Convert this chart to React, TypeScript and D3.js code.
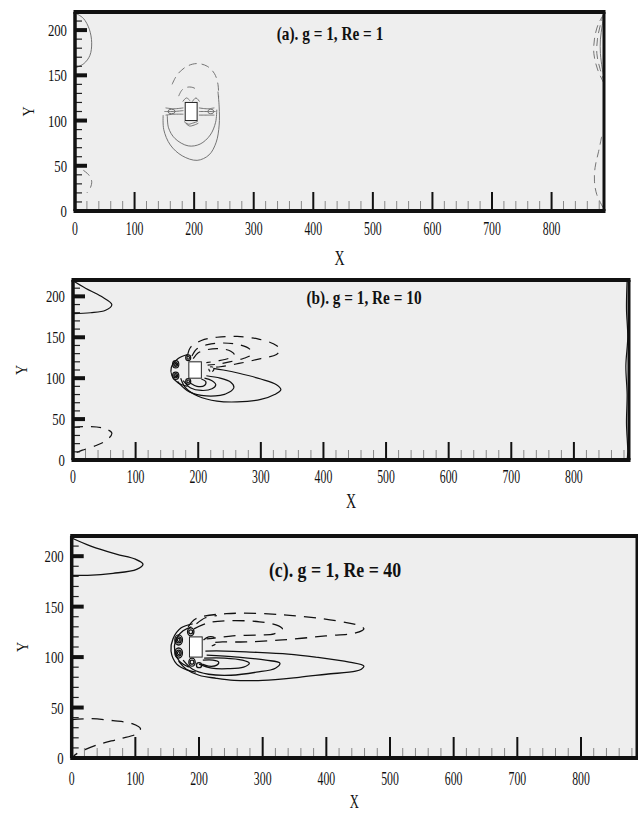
import React from "react";
import * as d3 from "d3";

type Pt = [number, number];
interface Contour { sign: number; closed?: boolean; pts: Pt[] }
interface Eddy { x: number; y: number; rx: number; ry: number; sign: number }

// Channel extent (lattice units)
const X_DOMAIN: [number, number] = [0, 888];
const Y_DOMAIN: [number, number] = [0, 220];

const xTickValues = [0, 100, 200, 300, 400, 500, 600, 700, 800];
const yTickValues = [0, 50, 100, 150, 200];
const xMinorStep = 20;
const yMinorStep = 10;

const panelTitles = ["(a). g = 1, Re = 1", "(b). g = 1, Re = 10", "(c). g = 1, Re = 40"];

// Square cylinder
const cylinderBox = { x0: 185, x1: 205, y0: 100, y1: 120 };

// Vorticity iso-lines, Re = 1 (sign < 0 → dashed)
const contoursRe1: Contour[] = [
  { sign: 1, pts: [[0, 219], [14, 213], [24, 201], [28, 186], [25, 172], [15, 163], [0, 158]] },
  { sign: -1, pts: [[14, 45], [23, 40], [28, 33], [26, 26], [20, 20]] },
  { sign: -1, pts: [[888, 218], [878, 206], [872, 190], [871, 174], [877, 157], [888, 141]] },
  { sign: -1, pts: [[888, 219], [882, 206], [877, 190], [876, 174], [881, 158], [888, 144]] },
  { sign: 1, pts: [[888, 219], [885, 205], [882, 190], [882, 174], [885, 158], [888, 148]] },
  { sign: -1, pts: [[884, 82], [879, 66], [873, 48], [872, 33], [876, 18], [888, 2]] },
  { sign: -1, pts: [[163, 140], [172, 151], [188, 160], [205, 163], [222, 160], [234, 152], [240, 140], [241, 125]] },
  { sign: -1, pts: [[174, 127], [180, 134], [190, 137], [200, 136], [205, 133]] },
  { sign: 1, pts: [[155, 106], [157, 92], [168, 80], [190, 72], [210, 74], [227, 84], [236, 98], [238, 112]] },
  { sign: 1, pts: [[148, 106], [149, 90], [160, 73], [180, 61], [205, 56], [225, 62], [237, 76], [242, 95], [242, 115], [240, 132]] },
  { sign: 1, pts: [[150, 110], [165, 110], [182, 111]] },
  { sign: 1, pts: [[152, 114], [166, 113], [182, 114]] },
  { sign: 1, pts: [[152, 106], [166, 107], [182, 107]] },
  { sign: 1, pts: [[208, 110], [222, 110], [236, 110]] },
  { sign: 1, pts: [[208, 114], [222, 113], [234, 114]] },
  { sign: 1, pts: [[208, 106], [222, 106], [234, 106]] },
  { sign: 1, pts: [[181, 121], [187, 125], [193, 122]] },
  { sign: 1, pts: [[197, 121], [203, 125], [209, 121]] },
  { sign: 1, pts: [[183, 99], [190, 96], [197, 97], [206, 99]] },
  { sign: 1, pts: [[186, 97], [192, 94], [200, 95], [207, 97]] },
];

const eddiesRe1: Eddy[] = [
  { x: 162, y: 110, rx: 6, ry: 2.5, sign: 1 },
  { x: 228, y: 110, rx: 5, ry: 2.5, sign: 1 },
];

// Vorticity iso-lines, Re = 10
const contoursRe10: Contour[] = [
  { sign: 1, pts: [[0, 219], [20, 210], [45, 200], [62, 190], [52, 183], [28, 180], [0, 179]] },
  { sign: -1, pts: [[0, 40], [25, 41], [48, 39], [62, 33], [55, 25], [38, 18], [15, 12], [2, 8]] },
  { sign: 1, pts: [[885, 220], [884, 185], [886, 150], [883, 115], [885, 80], [884, 45], [886, 10], [885, 0]] },
  { sign: -1, pts: [[183, 128], [188, 138], [205, 146], [230, 150], [262, 151], [295, 148], [320, 142], [331, 135], [325, 129], [300, 124], [265, 118], [235, 114], [218, 113]] },
  { sign: -1, pts: [[190, 127], [198, 136], [215, 141], [240, 143], [265, 141], [283, 135], [285, 129], [272, 124], [250, 120], [230, 117], [215, 116]] },
  { sign: -1, pts: [[192, 124], [200, 131], [215, 135], [235, 136], [252, 133], [258, 128], [248, 124], [230, 121], [213, 119]] },
  { sign: 1, pts: [[224, 112], [240, 110], [265, 106], [300, 99], [325, 92], [332, 86], [322, 80], [300, 74], [262, 71], [230, 72], [200, 78], [180, 88], [172, 100]] },
  { sign: 1, pts: [[213, 103], [235, 100], [252, 95], [257, 89], [250, 83], [235, 79], [205, 79], [182, 85], [167, 96]] },
  { sign: 1, pts: [[210, 100], [222, 97], [228, 92], [222, 87], [205, 85], [188, 88], [176, 97]] },
  { sign: 1, pts: [[205, 99], [212, 96], [210, 91], [198, 90], [187, 94]] },
  { sign: 1, pts: [[183, 129], [168, 124], [157, 113], [158, 103], [168, 94], [183, 90]] },
];

const eddiesRe10: Eddy[] = [
  { x: 164, y: 117, rx: 5, ry: 4.5, sign: 1 },
  { x: 164, y: 117, rx: 3, ry: 2.5, sign: 1 },
  { x: 164, y: 117, rx: 1.5, ry: 1.2, sign: 1 },
  { x: 164, y: 103, rx: 5, ry: 4.5, sign: 1 },
  { x: 164, y: 103, rx: 3, ry: 2.5, sign: 1 },
  { x: 164, y: 103, rx: 1.5, ry: 1.2, sign: 1 },
  { x: 184, y: 125, rx: 4, ry: 3.5, sign: 1 },
  { x: 184, y: 125, rx: 2, ry: 1.8, sign: 1 },
  { x: 184, y: 96, rx: 4, ry: 3.5, sign: 1 },
  { x: 184, y: 96, rx: 2, ry: 1.8, sign: 1 },
  { x: 221, y: 111, rx: 4, ry: 3, sign: -1 },
];

// Vorticity iso-lines, Re = 40
const contoursRe40: Contour[] = [
  { sign: 1, pts: [[0, 218], [30, 210], [70, 202], [100, 197], [112, 192], [102, 187], [65, 183], [25, 181], [0, 181]] },
  { sign: -1, pts: [[0, 38], [30, 39], [65, 37], [95, 34], [108, 29], [102, 24], [75, 19], [40, 13], [10, 5], [3, 2]] },
  { sign: -1, pts: [[183, 130], [195, 138], [243, 143], [331, 142], [415, 136], [452, 131], [459, 128], [446, 124], [399, 121], [331, 117], [274, 115], [237, 115], [215, 114]] },
  { sign: -1, pts: [[192, 128], [215, 134], [243, 136], [295, 135], [325, 131], [331, 128], [318, 123], [295, 122], [253, 121], [227, 119], [212, 118]] },
  { sign: -1, pts: [[196, 133], [210, 139], [228, 141]] },
  { sign: -1, pts: [[207, 117], [215, 120], [225, 119], [228, 114], [220, 111]] },
  { sign: 1, pts: [[210, 106], [240, 106], [280, 105], [340, 103], [383, 100], [436, 95], [459, 91], [455, 88], [446, 86], [400, 83], [357, 80], [300, 77], [255, 77], [227, 79], [200, 82], [180, 88], [168, 96]] },
  { sign: 1, pts: [[212, 102], [260, 100], [305, 97], [327, 94], [320, 89], [290, 85], [250, 82], [215, 83], [190, 88], [175, 97]] },
  { sign: 1, pts: [[208, 99], [240, 99], [268, 97], [279, 94], [270, 90], [245, 88.5], [220, 89], [200, 93]] },
  { sign: 1, pts: [[206, 97], [222, 97], [231, 95], [228, 92], [215, 91], [205, 93]] },
  { sign: 1, pts: [[190, 133], [172, 129], [159, 118], [156, 106], [165, 93], [182, 87], [195, 85]] },
  { sign: 1, pts: [[188, 130], [175, 126], [163, 116], [162, 106], [169, 96], [184, 90]] },
];

const eddiesRe40: Eddy[] = [
  { x: 168, y: 117, rx: 6, ry: 5, sign: 1 },
  { x: 168, y: 117, rx: 4, ry: 3, sign: 1 },
  { x: 168, y: 117, rx: 2, ry: 1.5, sign: 1 },
  { x: 168, y: 104, rx: 6, ry: 5, sign: 1 },
  { x: 168, y: 104, rx: 4, ry: 3, sign: 1 },
  { x: 168, y: 104, rx: 2, ry: 1.5, sign: 1 },
  { x: 187, y: 125, rx: 5, ry: 4, sign: 1 },
  { x: 187, y: 125, rx: 3, ry: 2, sign: 1 },
  { x: 189, y: 95, rx: 5, ry: 4, sign: 1 },
  { x: 189, y: 95, rx: 3, ry: 2, sign: 1 },
  { x: 200, y: 92, rx: 4, ry: 2.5, sign: 1 },
];

const contourSets = [contoursRe1, contoursRe10, contoursRe40];
const eddySets = [eddiesRe1, eddiesRe10, eddiesRe40];

interface Layout {
  left: number; right: number; top: number; bottom: number;
  titleX: number; titleY: number; titleSize: number;
  xLabelDy: number; xTitleY: number; yTitleX: number;
  majorLen: number; line: string; lineW: number; dash: string;
}

const layouts: Layout[] = [
  { left: 75, right: 604, top: 12, bottom: 211, titleX: 330, titleY: 40, titleSize: 18, xLabelDy: 24, xTitleY: 265, yTitleX: 33.5, majorLen: 19, line: "#666", lineW: 0.9, dash: "8,5" },
  { left: 73, right: 629, top: 280, bottom: 460, titleX: 364, titleY: 304, titleSize: 18, xLabelDy: 23, xTitleY: 508, yTitleX: 27, majorLen: 18, line: "#111", lineW: 1.2, dash: "10,8" },
  { left: 71.7, right: 637, top: 536, bottom: 758, titleX: 335, titleY: 577, titleSize: 21, xLabelDy: 27, xTitleY: 808, yTitleX: 27.5, majorLen: 21, line: "#111", lineW: 1.3, dash: "12,8" },
];

const SERIF = "'Liberation Serif', 'DejaVu Serif', serif";

function CText(props: { x: number; y: number; size: number; sx: number; anchor?: string; weight?: string; rotate?: number; children: React.ReactNode }) {
  const { x, y, size, sx, anchor = "middle", weight = "normal", rotate, children } = props;
  const t = `translate(${x},${y})${rotate ? ` rotate(${rotate})` : ""} scale(${sx},1)`;
  return (
    <g transform={t}>
      <text textAnchor={anchor} fontSize={size} fontFamily={SERIF} fontWeight={weight} fill="#111">
        {children}
      </text>
    </g>
  );
}

function Panel({ idx }: { idx: number }) {
  const L = layouts[idx];
  const xs = d3.scaleLinear().domain(X_DOMAIN).range([L.left, L.right]);
  const ys = d3.scaleLinear().domain(Y_DOMAIN).range([L.bottom, L.top]);
  const openLine = d3.line<Pt>().x((d) => xs(d[0])).y((d) => ys(d[1])).curve(d3.curveCatmullRom.alpha(0.5));
  const closedLine = d3.line<Pt>().x((d) => xs(d[0])).y((d) => ys(d[1])).curve(d3.curveCatmullRomClosed.alpha(0.5));
  const xMinor = d3.range(X_DOMAIN[0], X_DOMAIN[1], xMinorStep).filter((v) => v % 100 !== 0);
  const yMinor = d3.range(Y_DOMAIN[0], Y_DOMAIN[1], yMinorStep).filter((v) => v % 50 !== 0);
  const clipId = `clip-${idx}`;
  const midY = (L.top + L.bottom) / 2;
  return (
    <g>
      <defs>
        <clipPath id={clipId}>
          <rect x={L.left} y={L.top} width={L.right - L.left} height={L.bottom - L.top} />
        </clipPath>
      </defs>
      <rect x={L.left} y={L.top} width={L.right - L.left} height={L.bottom - L.top} fill="#eeeeee" />
      <g clipPath={`url(#${clipId})`} fill="none" stroke={L.line} strokeWidth={L.lineW}>
        {contourSets[idx].map((c, i) => (
          <path key={i} d={(c.closed ? closedLine : openLine)(c.pts) || ""} strokeDasharray={c.sign < 0 ? L.dash : undefined} />
        ))}
        {eddySets[idx].map((e, i) => (
          <ellipse key={`e${i}`} cx={xs(e.x)} cy={ys(e.y)} rx={Math.abs(xs(e.x + e.rx) - xs(e.x))} ry={Math.abs(ys(e.y + e.ry) - ys(e.y))} strokeDasharray={e.sign < 0 ? "3,2" : undefined} />
        ))}
      </g>
      <rect x={xs(cylinderBox.x0)} y={ys(cylinderBox.y1)} width={xs(cylinderBox.x1) - xs(cylinderBox.x0)} height={ys(cylinderBox.y0) - ys(cylinderBox.y1)} fill="#ffffff" stroke="#222" strokeWidth={1} />
      {/* minor ticks */}
      {xMinor.map((v) => (
        <line key={`xm${v}`} x1={xs(v)} x2={xs(v)} y1={L.bottom} y2={L.bottom - 10} stroke="#888" strokeWidth={1} />
      ))}
      {yMinor.map((v) => (
        <line key={`ym${v}`} x1={L.left} x2={L.left + 7} y1={ys(v)} y2={ys(v)} stroke="#222" strokeWidth={1.2} />
      ))}
      {/* major ticks */}
      {xTickValues.map((v) => (
        <line key={`xM${v}`} x1={xs(v)} x2={xs(v)} y1={L.bottom} y2={L.bottom - L.majorLen} stroke="#111" strokeWidth={2} />
      ))}
      {yTickValues.map((v) => (
        <line key={`yM${v}`} x1={L.left} x2={L.left + 12} y1={ys(v)} y2={ys(v)} stroke="#111" strokeWidth={4} />
      ))}
      {/* frame */}
      <line x1={L.left - 1.5} x2={L.right + 1.5} y1={L.top} y2={L.top} stroke="#111" strokeWidth={4} />
      <line x1={L.left - 1.5} x2={L.right + 1.5} y1={L.bottom} y2={L.bottom} stroke="#111" strokeWidth={4} />
      <line x1={L.left} x2={L.left} y1={L.top} y2={L.bottom} stroke="#111" strokeWidth={3.5} />
      <line x1={L.right} x2={L.right} y1={L.top} y2={L.bottom} stroke="#111" strokeWidth={3} />
      {/* tick labels */}
      {xTickValues.map((v) => (
        <CText key={`xl${v}`} x={xs(v)} y={L.bottom + L.xLabelDy} size={19} sx={0.62}>{v}</CText>
      ))}
      {yTickValues.map((v) => (
        <CText key={`yl${v}`} x={L.left - 8} y={ys(v) + 6} size={17} sx={0.75} anchor="end">{v}</CText>
      ))}
      {/* axis titles */}
      <CText x={(L.left + L.right) / 2} y={L.xTitleY} size={idx === 2 ? 18 : 20} sx={0.7}>X</CText>
      <CText x={L.yTitleX} y={midY} size={17.5} sx={0.8} rotate={-90}>Y</CText>
      <CText x={L.titleX} y={L.titleY} size={L.titleSize} sx={0.85} weight="bold">{panelTitles[idx]}</CText>
    </g>
  );
}

export default function App() {
  return (
    <svg width={638} height={816} style={{ position: "absolute", left: 0, top: 0, background: "#fff" }}>
      {[0, 1, 2].map((i) => (
        <Panel key={i} idx={i} />
      ))}
    </svg>
  );
}
